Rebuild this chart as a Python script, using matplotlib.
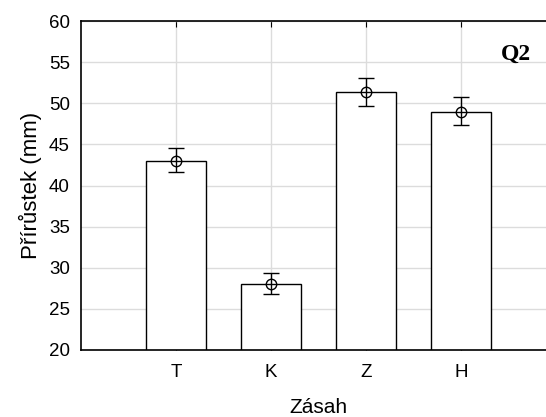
import matplotlib
matplotlib.use('Agg')
import matplotlib.pyplot as plt

groups = ['T', 'K', 'Z', 'H']
means = [43.0, 28.0, 51.4, 48.95]
err_low = [1.4, 1.2, 1.7, 1.65]
err_high = [1.5, 1.4, 1.7, 1.85]

plt.rcParams['font.family'] = ['Liberation Sans', 'DejaVu Sans']

fig = plt.figure(figsize=(5.46, 4.17), dpi=100)
ax = fig.add_axes([81 / 546, (417 - 350) / 417, (556 - 81) / 546, (350 - 21) / 417])

x = list(range(1, len(groups) + 1))
ax.bar(x, means, width=0.64, bottom=0, color='white', edgecolor='black',
       linewidth=1.0, zorder=2)
ax.errorbar(x, means, yerr=[err_low, err_high], fmt='o', mfc='none', mec='black',
            ms=7.5, ecolor='black', elinewidth=1.0, capsize=5.5, capthick=1.0,
            color='black', zorder=3)

ax.set_xlim(0, 5)
ax.set_ylim(20, 60)
ax.set_xticks(x)
ax.set_xticklabels(groups)
ax.set_yticks(range(20, 61, 5))
ax.grid(True, color='#dcdcdc', linewidth=1.0, zorder=0)
ax.set_axisbelow(True)
ax.tick_params(axis='x', direction='in', top=True, length=4, labelsize=13.5, pad=10)
ax.tick_params(axis='y', direction='in', length=0, labelsize=13.5, pad=8)
ax.spines['right'].set_visible(False)
for s in ['left', 'top', 'bottom']:
    ax.spines[s].set_linewidth(1.2)

ax.set_xlabel('Zásah', fontsize=15, labelpad=12)
ax.set_ylabel('Přírůstek (mm)', fontsize=16, labelpad=5)

ax.text(4.58, 55.9, 'Q2', fontsize=17, fontweight='bold', family='Liberation Serif',
        ha='center', va='center')

fig.savefig('out.png', dpi=100)
